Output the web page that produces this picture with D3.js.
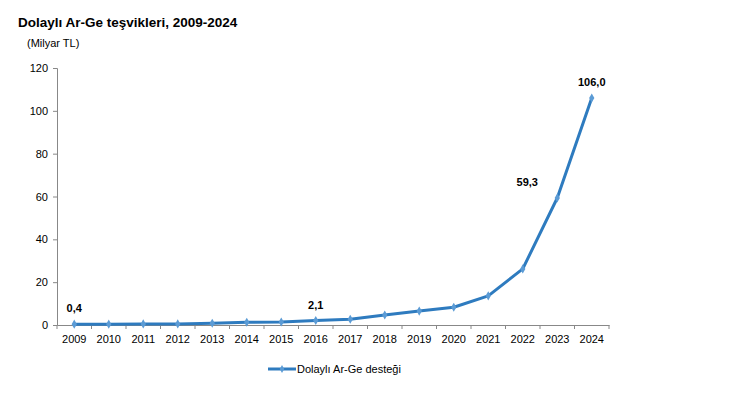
<!DOCTYPE html>
<html>
<head>
<meta charset="utf-8">
<script src="https://cdn.jsdelivr.net/npm/d3@7"></script>
<style>
  body { margin: 0; background: #fff; }
  text { font-family: "Liberation Sans", Arial, sans-serif; fill: #000; }
</style>
</head>
<body>
<div class="canva"></div>
<script>
var width = 736;
var height = 395;

// data (Milyar TL)
const years = ['2009','2010','2011','2012','2013','2014','2015','2016','2017','2018','2019','2020','2021','2022','2023','2024'];
const values = [0.4, 0.4, 0.5, 0.5, 0.8, 1.3, 1.4, 2.1, 2.7, 4.7, 6.5, 8.3, 13.6, 26.2, 59.3, 106.0];
const yTicks = [0, 20, 40, 60, 80, 100, 120];
const shownLabels = {'2009': '0,4', '2016': '2,1', '2023': '59,3', '2024': '106,0'};
const seriesName = 'Dolaylı Ar-Ge desteği';

const lineColor = '#2e7bbf';
const markColor = '#5b9bd5';

const svg = d3.select('.canva').append('svg')
    .attr('width', width)
    .attr('height', height);

const x = d3.scaleBand().domain(years).range([57, 609]);
const y = d3.scaleLinear().domain([0, 120]).range([325, 68]);

// title
svg.append('text')
    .attr('x', 18).attr('y', 27)
    .style('font-size', '13.5px').style('font-weight', 'bold')
    .text('Dolaylı Ar-Ge teşvikleri, 2009-2024');
svg.append('text')
    .attr('x', 27).attr('y', 47)
    .style('font-size', '11px')
    .text('(Milyar TL)');

// y axis
const yAxis = svg.append('g')
    .attr('transform', 'translate(57,0)')
    .call(d3.axisLeft(y).tickValues(yTicks).tickSize(4).tickPadding(5));
yAxis.selectAll('text').style('font-size', '11px');

// x axis
const xAxis = svg.append('g')
    .attr('transform', 'translate(0,325)')
    .call(d3.axisBottom(x).tickSize(0).tickPadding(10));
xAxis.selectAll('text').style('font-size', '11px');
xAxis.selectAll('.tick').append('line')
    .attr('x1', -x.bandwidth() / 2).attr('x2', -x.bandwidth() / 2)
    .attr('y1', 0).attr('y2', 4)
    .attr('stroke', '#888');
xAxis.append('line')
    .attr('x1', 609).attr('x2', 609).attr('y1', 0).attr('y2', 4)
    .attr('stroke', '#888');
svg.selectAll('.domain').attr('stroke', '#888');
yAxis.selectAll('.tick line').attr('stroke', '#888');

const cx = d => x(d.year) + x.bandwidth() / 2;
const data = years.map((yr, i) => ({year: yr, value: values[i]}));

svg.append('path')
    .datum(data)
    .attr('fill', 'none')
    .attr('stroke', lineColor)
    .attr('stroke-width', 3)
    .attr('stroke-linejoin', 'round')
    .attr('d', d3.line().x(cx).y(d => y(d.value)));

svg.selectAll('.mark')
    .data(data).enter().append('path')
    .attr('class', 'mark')
    .attr('transform', d => 'translate(' + cx(d) + ',' + y(d.value) + ')')
    .attr('d', d3.symbol().type(d3.symbolDiamond).size(24))
    .attr('fill', markColor);

svg.selectAll('.lbl')
    .data(data.filter(d => shownLabels[d.year])).enter().append('text')
    .attr('class', 'lbl')
    .attr('x', d => d.year === '2023' ? cx(d) - 30 : cx(d))
    .attr('y', d => y(d.value) - 12)
    .attr('text-anchor', 'middle')
    .style('font-size', '11px').style('font-weight', 'bold')
    .text(d => shownLabels[d.year]);

// legend
svg.append('line')
    .attr('x1', 268).attr('x2', 296).attr('y1', 369).attr('y2', 369)
    .attr('stroke', lineColor).attr('stroke-width', 3);
svg.append('path')
    .attr('transform', 'translate(282,369)')
    .attr('d', d3.symbol().type(d3.symbolDiamond).size(18))
    .attr('fill', markColor);
svg.append('text')
    .attr('x', 297).attr('y', 373)
    .style('font-size', '11px')
    .text(seriesName);
</script>
</body>
</html>
